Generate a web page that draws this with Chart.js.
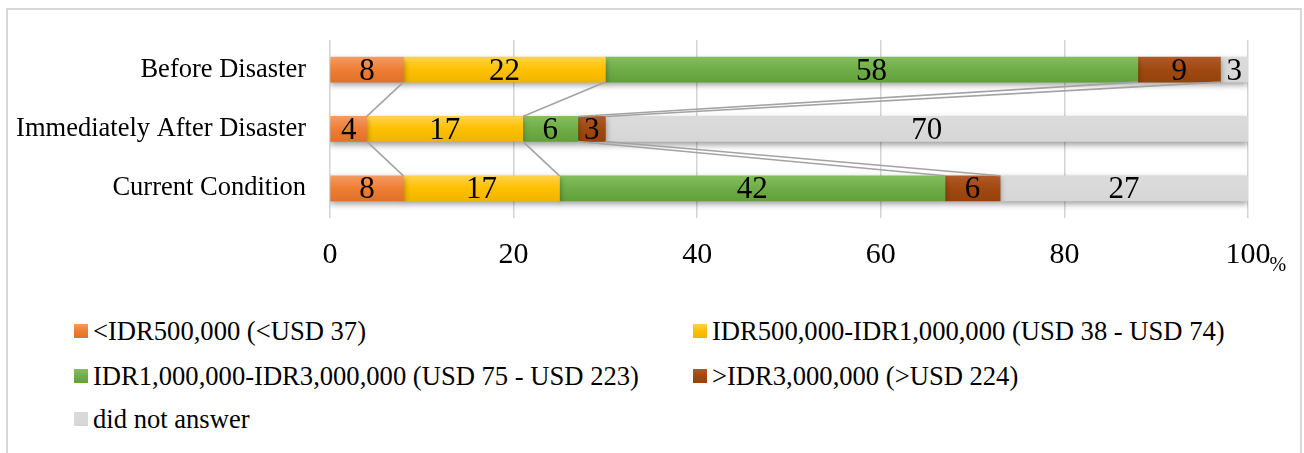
<!DOCTYPE html>
<html lang="en">
<head>
  <meta charset="UTF-8" />
  <title>Income before and after disaster</title>
  <script src="https://cdn.jsdelivr.net/npm/chart.js"></script>
  <style>
    body { margin: 0; background: #fff; width: 1304px; height: 453px; overflow: hidden; position: relative; font-family: "Liberation Serif", "Times New Roman", serif; }
    .frame { position: absolute; left: 6px; top: 8px; width: 1296px; height: 470px; border: 2px solid #d9d9d9; box-sizing: border-box; }
    .chart-box { position: absolute; left: 0; top: 0; width: 1304px; height: 300px; }
    .legend-item { position: absolute; height: 30px; display: flex; align-items: center; font-size: 26.6px; color: #000; white-space: nowrap; }
    .legend-item span.box { width: 14px; height: 14px; margin-right: 5px; display: inline-block; }
  </style>
</head>
<body>
  <div class="frame"></div>
  <div class="chart-box"><canvas id="incomeChart"></canvas></div>
  <div id="legend"></div>

  <script>
    const categories = ["Before Disaster", "Immediately After Disaster", "Current Condition"];
    const seriesNames = [
      "<IDR500,000 (<USD 37)",
      "IDR500,000-IDR1,000,000 (USD 38 - USD 74)",
      "IDR1,000,000-IDR3,000,000 (USD 75 - USD 223)",
      ">IDR3,000,000 (>USD 224)",
      "did not answer"
    ];
    const below500k = [8, 4, 8];
    const from500kTo1M = [22, 17, 17];
    const from1MTo3M = [58, 6, 42];
    const above3M = [9, 3, 6];
    const noAnswer = [3, 70, 27];
    const xTicks = [0, 20, 40, 60, 80, 100];

    const seriesValues = [below500k, from500kTo1M, from1MTo3M, above3M, noAnswer];
    // top / middle / bottom colours of the bar gradient
    const seriesColors = [
      ["#F39B63", "#EE7E33", "#E2702A"],
      ["#FFD24A", "#FFC000", "#F0B400"],
      ["#84BE5E", "#70AD47", "#62A03A"],
      ["#B0592A", "#A0490F", "#95420C"],
      ["#DBDBDB", "#D9D9D9", "#D6D6D6"]
    ];
    const serif = "'Liberation Serif', 'Times New Roman', serif";
    const BAR = 25;

    function barGradient(ctx, i) {
      const chart = ctx.chart;
      const y = chart.scales && chart.scales.y;
      const c = seriesColors[i];
      if (!y || ctx.dataIndex === undefined) return c[1];
      const yc = y.getPixelForValue(ctx.dataIndex);
      if (!isFinite(yc)) return c[1];
      const g = chart.ctx.createLinearGradient(0, yc - BAR / 2, 0, yc + BAR / 2);
      g.addColorStop(0, c[0]);
      g.addColorStop(0.5, c[1]);
      g.addColorStop(1, c[2]);
      return g;
    }

    // drop shadow under the bars
    const shadowPlugin = {
      id: "barShadow",
      beforeDatasetsDraw(chart) {
        const ctx = chart.ctx;
        ctx.save();
        ctx.shadowColor = "rgba(0,0,0,0.38)";
        ctx.shadowBlur = 6;
        ctx.shadowOffsetY = 3;
      },
      afterDatasetsDraw(chart) {
        chart.ctx.restore();
      }
    };

    // Excel-like series lines joining the segment ends of neighbouring bars
    const seriesLines = {
      id: "seriesLines",
      afterDatasetsDraw(chart) {
        const ctx = chart.ctx;
        ctx.save();
        ctx.strokeStyle = "#a3a3a3";
        ctx.lineWidth = 1.6;
        for (let d = 0; d < chart.data.datasets.length - 1; d++) {
          const bars = chart.getDatasetMeta(d).data;
          for (let i = 0; i < bars.length - 1; i++) {
            const a = bars[i], b = bars[i + 1];
            ctx.beginPath();
            ctx.moveTo(a.x, a.y + a.height / 2);
            ctx.lineTo(b.x, b.y - b.height / 2);
            ctx.stroke();
          }
        }
        ctx.restore();
      }
    };

    const valueLabels = {
      id: "valueLabels",
      afterDatasetsDraw(chart) {
        const ctx = chart.ctx;
        ctx.save();
        ctx.font = "31px " + serif;
        ctx.fillStyle = "#000";
        ctx.textAlign = "center";
        ctx.textBaseline = "middle";
        chart.data.datasets.forEach((ds, d) => {
          chart.getDatasetMeta(d).data.forEach((bar, i) => {
            const cx = (bar.x + bar.base) / 2;
            ctx.fillText(String(ds.data[i]), cx, bar.y + 2);
          });
        });
        ctx.restore();
      }
    };

    // small "%" after the last tick label
    const percentSign = {
      id: "percentSign",
      afterDraw(chart) {
        const x = chart.scales.x;
        const ctx = chart.ctx;
        ctx.save();
        ctx.font = "30px " + serif;
        const w = ctx.measureText(String(xTicks[xTicks.length - 1])).width;
        ctx.font = "20px " + serif;
        ctx.fillStyle = "#000";
        ctx.textAlign = "left";
        ctx.textBaseline = "alphabetic";
        ctx.fillText("%", x.getPixelForValue(xTicks[xTicks.length - 1]) + w / 2 - 1, 271);
        ctx.restore();
      }
    };

    new Chart(document.getElementById("incomeChart").getContext("2d"), {
      type: "bar",
      data: {
        labels: categories,
        datasets: seriesNames.map((name, i) => ({
          label: name,
          data: seriesValues[i],
          backgroundColor: (ctx) => barGradient(ctx, i),
          borderWidth: 0,
          barThickness: BAR
        }))
      },
      options: {
        indexAxis: "y",
        responsive: true,
        maintainAspectRatio: false,
        animation: false,
        layout: { padding: { left: 0, top: 33, right: 56, bottom: 22 } },
        plugins: {
          legend: { display: false },
          tooltip: { enabled: false }
        },
        scales: {
          x: {
            stacked: true,
            min: 0,
            max: 100,
            afterBuildTicks: (scale) => { scale.ticks = xTicks.map(v => ({ value: v })); },
            afterFit: (scale) => { scale.height = 60; },
            ticks: {
              color: "#000",
              padding: 19,
              maxRotation: 0,
              font: { family: serif, size: 30 }
            },
            grid: { color: "#d4d4d4", lineWidth: 1.5, drawTicks: false },
            border: { display: false }
          },
          y: {
            stacked: true,
            afterFit: (scale) => { scale.width = 330; },
            ticks: {
              color: "#000",
              padding: 24,
              font: { family: serif, size: 26.5 }
            },
            grid: { display: false, drawTicks: false },
            border: { display: false }
          }
        }
      },
      plugins: [shadowPlugin, seriesLines, valueLabels, percentSign]
    });

    // two-column legend like the original
    const legendSpots = [
      [74, 331], [693, 331],
      [74, 376], [693, 376],
      [74, 419]
    ];
    const legend = document.getElementById("legend");
    seriesNames.forEach((name, i) => {
      const item = document.createElement("div");
      item.className = "legend-item";
      item.style.left = legendSpots[i][0] + "px";
      item.style.top = (legendSpots[i][1] - 15) + "px";
      const box = document.createElement("span");
      box.className = "box";
      const c = seriesColors[i];
      box.style.background = `linear-gradient(${c[0]}, ${c[1]} 50%, ${c[2]})`;
      const txt = document.createElement("span");
      txt.textContent = name;
      item.appendChild(box);
      item.appendChild(txt);
      legend.appendChild(item);
    });
  </script>
</body>
</html>
